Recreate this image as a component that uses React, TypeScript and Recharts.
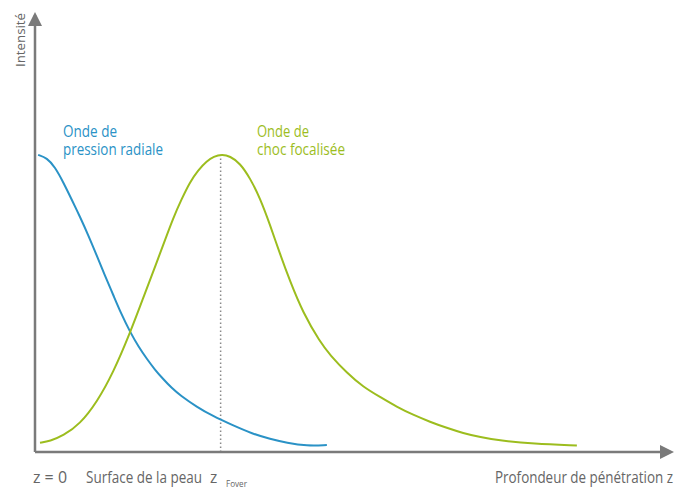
import React from "react";
import { LineChart, Line, XAxis, YAxis, ReferenceLine } from "recharts";

// Depth z (arbitrary units 0-100) and intensity (0-100)
const radialZ = [0.5, 1.9, 3.2, 4.5, 5.9, 7.2, 8.5, 9.9, 11.2, 12.5, 13.8, 15.2, 16.6, 17.9, 19.2, 20.5, 21.9, 23.2, 25.9, 28.5, 31.2, 34.9, 37.6, 40.3, 43.5, 46.7];
const radialI = [68.0, 67.3, 65.2, 61.8, 57.7, 53.8, 49.7, 44.9, 40.3, 36.0, 31.6, 27.5, 24.0, 21.3, 18.8, 16.7, 14.6, 13.0, 10.3, 8.2, 6.4, 4.1, 3.0, 2.1, 1.4, 1.6];

const focusedZ = [0.8, 2.4, 4.5, 7.2, 9.9, 12.5, 15.2, 17.3, 19.5, 20.8, 22.1, 23.4, 24.8, 26.1, 27.5, 28.6, 29.9, 31.2, 32.8, 34.4, 36.0, 37.6, 39.2, 40.8, 42.9, 45.6, 47.2, 49.9, 52.5, 55.2, 57.9, 60.5, 63.2, 65.9, 68.5, 71.2, 74.4, 79.7, 86.7];
const focusedI = [2.1, 2.5, 3.7, 6.4, 11.4, 18.1, 27.2, 35.2, 43.5, 48.5, 53.5, 57.7, 61.8, 64.5, 66.6, 67.6, 68.1, 67.7, 66.1, 62.7, 58.1, 52.0, 45.3, 39.1, 31.8, 25.2, 22.2, 18.1, 14.9, 12.6, 10.3, 8.5, 6.9, 5.5, 4.3, 3.4, 2.6, 1.9, 1.5];

const focusZ = 29.7;
const focusPeak = 68.0;

const radialData = radialZ.map((z, i) => ({ z, v: radialI[i] }));
const focusedData = focusedZ.map((z, i) => ({ z, v: focusedI[i] }));

const BLUE = "#2a92c6";
const GREEN = "#9cbd1e";
const AXIS = "#7a7a7a";
const TEXT = "#666666";
const FONT = "'Liberation Sans Narrow', 'Open Sans', sans-serif";

export default function App() {
  return (
    <div style={{ position: "absolute", left: 0, top: 0, width: 675, height: 489, background: "#fff" }}>
      <LineChart
        width={675}
        height={489}
        margin={{ top: 15, right: 15, bottom: 0, left: 0 }}
      >
        <XAxis
          type="number"
          dataKey="z"
          domain={[0, 100]}
          allowDataOverflow
          height={37}
          tick={false}
          tickLine={false}
          axisLine={{ stroke: AXIS, strokeWidth: 2.5 }}
        />
        <YAxis
          type="number"
          domain={[0, 100]}
          allowDataOverflow
          width={35}
          tick={false}
          tickLine={false}
          axisLine={{ stroke: AXIS, strokeWidth: 2.5 }}
        />
        <ReferenceLine
          segment={[{ x: focusZ, y: 0 }, { x: focusZ, y: focusPeak }]}
          stroke="#8a8a8a"
          strokeWidth={1.5}
          strokeDasharray="1.5 2.5"
        />
        <Line
          data={radialData}
          dataKey="v"
          type="basis"
          stroke={BLUE}
          strokeWidth={2}
          dot={false}
          isAnimationActive={false}
        />
        <Line
          data={focusedData}
          dataKey="v"
          type="basis"
          stroke={GREEN}
          strokeWidth={2}
          dot={false}
          isAnimationActive={false}
        />
      </LineChart>
      <svg
        width={675}
        height={489}
        style={{ position: "absolute", left: 0, top: 0, pointerEvents: "none" }}
      >
        <polygon points="35,12 28,26 42,26" fill={AXIS} />
        <polygon points="674,452 660,445 660,459" fill={AXIS} />
        <g fontFamily={FONT} fontSize={15.5}>
          <text x={24.5} y={40} transform="rotate(-90 24.5 40)" textAnchor="middle" fill={TEXT} fontSize={13.5} textLength={54} lengthAdjust="spacingAndGlyphs">Intensité</text>
          <text x={63} y={137} fill={BLUE} textLength={54} lengthAdjust="spacingAndGlyphs">Onde de</text>
          <text x={63} y={155} fill={BLUE} textLength={100} lengthAdjust="spacingAndGlyphs">pression radiale</text>
          <text x={257} y={137} fill={GREEN} textLength={52} lengthAdjust="spacingAndGlyphs">Onde de</text>
          <text x={257} y={155} fill={GREEN} textLength={88} lengthAdjust="spacingAndGlyphs">choc focalisée</text>
          <text x={33} y={483} fill={TEXT} textLength={34} lengthAdjust="spacingAndGlyphs">z = 0</text>
          <text x={86} y={483} fill={TEXT} textLength={116} lengthAdjust="spacingAndGlyphs">Surface de la peau</text>
          <text x={210} y={483} fill={TEXT}>z</text>
          <text x={226} y={487} fill={TEXT} fontSize={8.5} textLength={21} lengthAdjust="spacingAndGlyphs">Fover</text>
          <text x={495} y={483} fill={TEXT} textLength={178} lengthAdjust="spacingAndGlyphs">Profondeur de pénétration z</text>
        </g>
      </svg>
    </div>
  );
}
